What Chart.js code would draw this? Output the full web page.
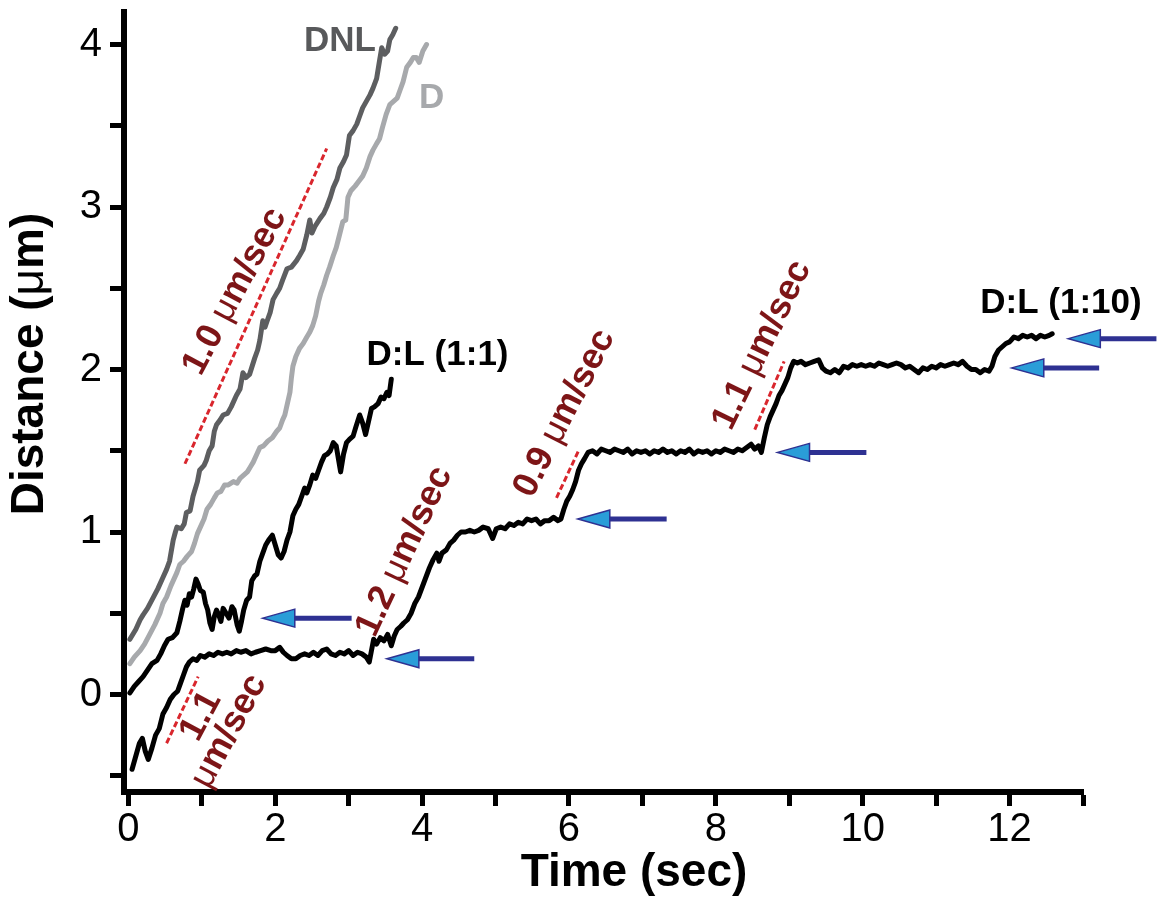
<!DOCTYPE html>
<html>
<head>
<meta charset="utf-8">
<script src="https://cdn.jsdelivr.net/npm/chart.js@4.4.1/dist/chart.umd.min.js"></script>
<style>
html,body{margin:0;padding:0;background:#fff;}
#wrap{width:1158px;height:913px;position:relative;}
</style>
</head>
<body>
<div id="wrap"><canvas id="c" width="1158" height="913"></canvas></div>
<script>
// ---------------- data ----------------
const dnlTime = [0.02,0.10,0.16,0.20,0.26,0.33,0.40,0.47,0.52,0.56,0.61,0.64,0.66,0.72,0.76,0.79,0.84,0.88,0.94,0.97,1.03,1.06,1.10,1.14,1.17,1.20,1.25,1.29,1.35,1.40,1.47,1.52,1.56,1.60,1.65,1.72,1.76,1.79,1.83,1.86,1.89,1.93,1.97,2.02,2.06,2.10,2.16,2.22,2.29,2.33,2.38,2.43,2.47,2.50,2.54,2.61,2.66,2.70,2.75,2.79,2.84,2.88,2.93,2.97,3.01,3.06,3.11,3.15,3.19,3.24,3.29,3.33,3.38,3.42,3.45,3.49,3.53,3.56,3.60,3.64];
const dnlDist = [0.34,0.40,0.46,0.49,0.53,0.59,0.65,0.72,0.77,0.82,0.95,1.00,1.03,1.02,1.05,1.12,1.13,1.22,1.31,1.38,1.41,1.44,1.50,1.53,1.62,1.66,1.69,1.72,1.73,1.77,1.84,1.88,1.98,1.95,1.97,2.07,2.12,2.18,2.30,2.26,2.30,2.35,2.43,2.47,2.50,2.55,2.62,2.63,2.67,2.70,2.74,2.83,2.92,2.84,2.88,2.93,2.96,3.00,3.06,3.12,3.17,3.24,3.28,3.32,3.44,3.47,3.51,3.56,3.61,3.65,3.69,3.73,3.79,3.90,3.98,3.94,3.96,4.03,4.06,4.10];

const dTime = [0.02,0.08,0.16,0.22,0.29,0.36,0.43,0.47,0.52,0.58,0.62,0.66,0.70,0.75,0.80,0.86,0.90,0.94,0.98,1.03,1.07,1.12,1.17,1.21,1.26,1.31,1.36,1.43,1.48,1.52,1.57,1.62,1.66,1.70,1.75,1.79,1.84,1.90,1.96,2.02,2.06,2.10,2.13,2.17,2.20,2.22,2.24,2.28,2.33,2.38,2.43,2.47,2.51,2.55,2.59,2.62,2.66,2.70,2.74,2.79,2.83,2.87,2.92,2.96,2.99,3.03,3.09,3.14,3.19,3.24,3.29,3.33,3.38,3.42,3.46,3.51,3.56,3.61,3.66,3.70,3.74,3.79,3.84,3.88,3.92,3.96,4.01,4.06];
const dDist = [0.19,0.23,0.27,0.31,0.37,0.43,0.50,0.56,0.60,0.67,0.71,0.75,0.80,0.82,0.85,0.88,0.93,0.99,1.03,1.08,1.14,1.17,1.21,1.24,1.25,1.29,1.29,1.31,1.30,1.33,1.35,1.37,1.40,1.43,1.48,1.52,1.53,1.56,1.58,1.62,1.64,1.69,1.72,1.80,1.86,1.95,2.02,2.08,2.13,2.16,2.20,2.23,2.27,2.33,2.42,2.47,2.52,2.58,2.63,2.70,2.75,2.82,2.91,2.92,3.06,3.10,3.13,3.16,3.19,3.24,3.31,3.35,3.39,3.42,3.49,3.57,3.63,3.65,3.67,3.72,3.77,3.86,3.89,3.92,3.92,3.89,3.96,4.00];

const dl11Time = [0.02,0.08,0.14,0.20,0.26,0.32,0.39,0.44,0.49,0.54,0.60,0.66,0.70,0.74,0.77,0.80,0.83,0.86,0.89,0.92,0.95,0.98,1.02,1.05,1.08,1.11,1.14,1.17,1.20,1.23,1.26,1.29,1.33,1.37,1.41,1.44,1.48,1.51,1.54,1.57,1.61,1.65,1.68,1.72,1.75,1.79,1.83,1.87,1.91,1.96,2.00,2.04,2.08,2.12,2.16,2.20,2.24,2.28,2.32,2.36,2.40,2.43,2.47,2.51,2.55,2.59,2.63,2.67,2.71,2.75,2.79,2.83,2.86,2.89,2.93,2.97,3.01,3.06,3.10,3.15,3.19,3.23,3.27,3.31,3.35,3.40,3.44,3.48,3.52,3.55,3.58];
const dl11Dist = [0.01,0.05,0.08,0.11,0.15,0.19,0.21,0.25,0.30,0.34,0.35,0.38,0.45,0.53,0.58,0.55,0.62,0.60,0.65,0.71,0.68,0.64,0.63,0.56,0.52,0.44,0.40,0.48,0.52,0.49,0.45,0.53,0.50,0.47,0.54,0.52,0.43,0.39,0.45,0.52,0.58,0.60,0.70,0.73,0.74,0.82,0.87,0.92,0.95,0.98,0.92,0.86,0.84,0.88,0.95,1.00,1.10,1.14,1.17,1.22,1.27,1.24,1.29,1.35,1.33,1.38,1.43,1.47,1.48,1.50,1.55,1.53,1.45,1.37,1.48,1.55,1.57,1.59,1.65,1.72,1.67,1.60,1.68,1.76,1.77,1.79,1.83,1.82,1.86,1.84,1.94];

const dl110Time = [0.05,0.10,0.15,0.19,0.23,0.27,0.32,0.37,0.42,0.47,0.52,0.57,0.62,0.67,0.71,0.75,0.79,0.83,0.88,0.93,0.98,1.04,1.10,1.16,1.22,1.28,1.34,1.40,1.47,1.53,1.60,1.67,1.73,1.80,1.87,1.94,2.00,2.06,2.11,2.16,2.22,2.28,2.34,2.40,2.46,2.52,2.58,2.64,2.70,2.76,2.82,2.88,2.94,3.00,3.06,3.12,3.18,3.24,3.28,3.31,3.34,3.38,3.43,3.48,3.53,3.58,3.62,3.66,3.71,3.75,3.80,3.85,3.90,3.95,4.00,4.05,4.10,4.15,4.20,4.23,4.27,4.33,4.38,4.43,4.48,4.53,4.59,4.65,4.71,4.77,4.83,4.90,4.96,5.01,5.07,5.13,5.19,5.25,5.31,5.37,5.43,5.49,5.55,5.61,5.67,5.73,5.79,5.85,5.89,5.93,5.97,6.01,6.05,6.09,6.13,6.17,6.21,6.26,6.32,6.38,6.44,6.50,6.56,6.62,6.68,6.74,6.80,6.86,6.92,6.98,7.04,7.10,7.16,7.22,7.28,7.34,7.40,7.46,7.52,7.58,7.64,7.70,7.76,7.82,7.88,7.94,8.00,8.06,8.12,8.18,8.24,8.30,8.36,8.42,8.48,8.53,8.58,8.62,8.66,8.70,8.74,8.78,8.82,8.86,8.90,8.94,8.98,9.02,9.06,9.11,9.16,9.22,9.28,9.34,9.40,9.45,9.50,9.56,9.62,9.68,9.74,9.80,9.86,9.92,9.98,10.04,10.10,10.16,10.22,10.28,10.34,10.40,10.46,10.52,10.58,10.64,10.70,10.76,10.82,10.88,10.94,11.00,11.06,11.12,11.18,11.24,11.30,11.36,11.42,11.48,11.54,11.60,11.66,11.72,11.76,11.80,11.85,11.90,11.95,12.00,12.06,12.12,12.18,12.24,12.30,12.36,12.42,12.48,12.54,12.58];
const dl110Dist = [-0.46,-0.38,-0.30,-0.27,-0.35,-0.40,-0.33,-0.25,-0.21,-0.12,-0.08,-0.03,0.00,0.02,0.07,0.12,0.17,0.20,0.22,0.21,0.24,0.23,0.25,0.24,0.26,0.25,0.26,0.25,0.27,0.26,0.27,0.25,0.26,0.27,0.28,0.27,0.27,0.29,0.26,0.24,0.22,0.22,0.24,0.25,0.24,0.26,0.24,0.27,0.28,0.25,0.24,0.26,0.25,0.27,0.24,0.26,0.25,0.23,0.20,0.27,0.34,0.31,0.35,0.33,0.37,0.30,0.36,0.40,0.42,0.44,0.46,0.50,0.56,0.60,0.66,0.72,0.78,0.83,0.87,0.82,0.87,0.89,0.93,0.95,0.98,1.00,1.00,1.01,1.00,1.01,1.03,1.02,0.96,1.02,1.03,1.02,1.05,1.04,1.06,1.05,1.08,1.07,1.08,1.05,1.07,1.07,1.09,1.07,1.08,1.14,1.19,1.22,1.26,1.31,1.38,1.42,1.45,1.49,1.50,1.48,1.51,1.50,1.49,1.51,1.50,1.49,1.51,1.48,1.50,1.49,1.50,1.48,1.50,1.49,1.51,1.49,1.50,1.48,1.50,1.49,1.51,1.48,1.50,1.49,1.50,1.48,1.50,1.49,1.51,1.50,1.49,1.51,1.50,1.52,1.54,1.51,1.53,1.49,1.58,1.66,1.71,1.75,1.79,1.84,1.87,1.91,1.95,2.01,2.05,2.04,2.05,2.03,2.04,2.05,2.06,2.01,1.99,1.98,2.00,1.98,2.02,2.01,2.03,2.02,2.03,2.02,2.03,2.02,2.04,2.03,2.02,2.03,2.04,2.03,2.01,2.02,2.00,1.98,2.01,2.00,2.02,2.01,2.03,2.02,2.03,2.04,2.03,2.05,2.02,2.00,2.00,1.98,2.00,1.99,2.02,2.08,2.12,2.14,2.16,2.17,2.20,2.19,2.21,2.20,2.21,2.19,2.21,2.20,2.21,2.22];

// tick values / labels
const xTickValues = [0,1,2,3,4,5,6,7,8,9,10,11,12,13];
const xTickLabels = ['0','','2','','4','','6','','8','','10','','12',''];
const yTickValues = [-0.5,0,0.5,1,1.5,2,2.5,3,3.5,4];
const yTickLabels = ['','0','','1','','2','','3','','4'];

// velocity guide lines (time pairs, distance pairs)
const slopeTime = [[0.77,2.70],[0.52,0.95],[5.83,6.13],[8.53,8.93]];
const slopeDist = [[1.42,3.36],[-0.30,0.11],[1.21,1.50],[1.63,2.05]];

// velocity labels
const velText = [['1.0 μm/sec'],['1.1','μm/sec'],['1.2 μm/sec'],['0.9 μm/sec'],['1.1 μm/sec']];
const velTime = [1.45,1.18,3.76,5.94,8.63];
const velDist = [2.48,-0.18,0.88,1.73,2.15];
const velAngle = [-62,-62,-65,-63,-64];

// arrows (tip time, tail time, distance)
const arrowTip = [1.83,3.52,6.12,8.84,12.03,12.80];
const arrowTail = [3.04,4.71,7.33,10.05,13.22,14.00];
const arrowDist = [0.47,0.22,1.08,1.49,2.01,2.19];

// trace names
const nameText = ['DNL','D','D:L (1:1)','D:L (1:10)'];
const nameTime = [2.88,4.13,4.21,12.70];
const nameDist = [4.02,3.67,2.09,2.41];
const nameColor = ['#58595b','#a7a9ac','#000000','#000000'];

// ---------------- chart ----------------
const FONT = '"Liberation Sans", Arial, Helvetica, sans-serif';
Chart.defaults.font.family = FONT;

function zip(xs, ys){ const n=Math.min(xs.length,ys.length); const out=[]; for(let i=0;i<n;i++) out.push({x:xs[i],y:ys[i]}); return out; }

// draw text centred at (0,0) where the Greek mu is set in regular weight
function richText(ctx, s, size, y){
  const parts = s.split(/(μ)/).filter(p=>p.length);
  const fonts = parts.map(p => (p==='μ' ? '' : 'bold ') + size + 'px ' + FONT);
  let total = 0; const widths = [];
  parts.forEach((p,i)=>{ ctx.font = fonts[i]; const w = ctx.measureText(p).width; widths.push(w); total += w; });
  let x = -total/2;
  ctx.textAlign = 'left';
  parts.forEach((p,i)=>{ ctx.font = fonts[i]; ctx.fillText(p, x, y); x += widths[i]; });
}

const traceStyle = {pointRadius:0, borderWidth:5, tension:0, borderJoinStyle:'round', borderCapStyle:'round', fill:false};

const datasets = [
  Object.assign({label:'D', data:zip(dTime,dDist), borderColor:'#a7a9ac'}, traceStyle),
  Object.assign({label:'DNL', data:zip(dnlTime,dnlDist), borderColor:'#5d5e60'}, traceStyle),
  Object.assign({label:'D:L (1:1)', data:zip(dl11Time,dl11Dist), borderColor:'#000'}, traceStyle),
  Object.assign({label:'D:L (1:10)', data:zip(dl110Time,dl110Dist), borderColor:'#000'}, traceStyle)
];
slopeTime.forEach((t,i)=>{
  datasets.push({label:'slope'+i, data:zip(t,slopeDist[i]), borderColor:'#d9262d', borderWidth:3, borderDash:[6,3], pointRadius:0, tension:0, fill:false});
});

const annot = {
  id:'annot',
  afterDraw(chart){
    const ctx = chart.ctx, xs = chart.scales.x, ys = chart.scales.y;
    ctx.save();
    // arrows
    arrowTip.forEach((t,i)=>{
      const xt = xs.getPixelForValue(t), xe = xs.getPixelForValue(arrowTail[i]), yy = ys.getPixelForValue(arrowDist[i]);
      const hl = 32, hh = 9;
      ctx.strokeStyle = '#2e3192'; ctx.lineWidth = 5; ctx.lineCap='butt';
      ctx.beginPath(); ctx.moveTo(xt+hl-2, yy); ctx.lineTo(xe, yy); ctx.stroke();
      ctx.beginPath(); ctx.moveTo(xt, yy); ctx.lineTo(xt+hl, yy-hh); ctx.lineTo(xt+hl, yy+hh); ctx.closePath();
      ctx.fillStyle = '#2a9dd8'; ctx.fill();
      ctx.lineWidth = 1.5; ctx.strokeStyle = '#2e3192'; ctx.stroke();
    });
    // velocity labels
    ctx.fillStyle = '#7d1517';
    ctx.textBaseline = 'middle';
    velText.forEach((lines,i)=>{
      const px = xs.getPixelForValue(velTime[i]), py = ys.getPixelForValue(velDist[i]);
      ctx.save(); ctx.translate(px,py); ctx.rotate(velAngle[i]*Math.PI/180);
      const lh = 32, off = -(lines.length-1)*lh/2;
      lines.forEach((s,j)=>richText(ctx, s, 36, off + j*lh));
      ctx.restore();
    });
    // trace names
    ctx.font = 'bold 35px ' + FONT;
    ctx.textAlign = 'center';
    nameText.forEach((s,i)=>{
      ctx.fillStyle = nameColor[i];
      ctx.fillText(s, xs.getPixelForValue(nameTime[i]), ys.getPixelForValue(nameDist[i]));
    });
    // axis titles
    ctx.fillStyle = '#000';
    ctx.font = 'bold 46px ' + FONT;
    ctx.textAlign = 'center';
    ctx.fillText('Time (sec)', 634, 873);
    ctx.save(); ctx.translate(30, 364); ctx.rotate(-Math.PI/2);
    richText(ctx, 'Distance (μm)', 46, 0);
    ctx.restore();
    ctx.restore();
  }
};

new Chart(document.getElementById('c'), {
  type:'line',
  data:{datasets},
  options:{
    responsive:false, animation:false,
    layout:{padding:{top:12,right:75,left:0,bottom:0}},
    plugins:{legend:{display:false}, tooltip:{enabled:false}, title:{display:false}},
    scales:{
      x:{
        type:'linear', min:-0.06, max:13,
        afterBuildTicks:s=>{ s.ticks = xTickValues.map(v=>({value:v})); },
        afterFit:s=>{ s.height = 121; s.paddingLeft = 0; s.paddingRight = 0; },
        grid:{drawOnChartArea:false, drawTicks:true, tickLength:14, tickWidth:5, tickColor:'#000'},
        border:{display:true, width:6, color:'#000'},
        ticks:{font:{size:40}, color:'#000', padding:0, maxRotation:0, autoSkip:false,
          callback:(v,i)=>xTickLabels[xTickValues.indexOf(v)] ?? ''}
      },
      y:{
        type:'linear', min:-0.6, max:4.2,
        afterBuildTicks:s=>{ s.ticks = yTickValues.map(v=>({value:v})); },
        afterFit:s=>{ s.width = 124; s.paddingTop = 0; s.paddingBottom = 0; },
        grid:{drawOnChartArea:false, drawTicks:true, tickLength:14, tickWidth:5, tickColor:'#000'},
        border:{display:true, width:6, color:'#000'},
        ticks:{font:{size:40}, color:'#000', padding:8, autoSkip:false,
          callback:(v,i)=>yTickLabels[yTickValues.indexOf(v)] ?? ''}
      }
    }
  },
  plugins:[annot]
});
</script>
</body>
</html>
